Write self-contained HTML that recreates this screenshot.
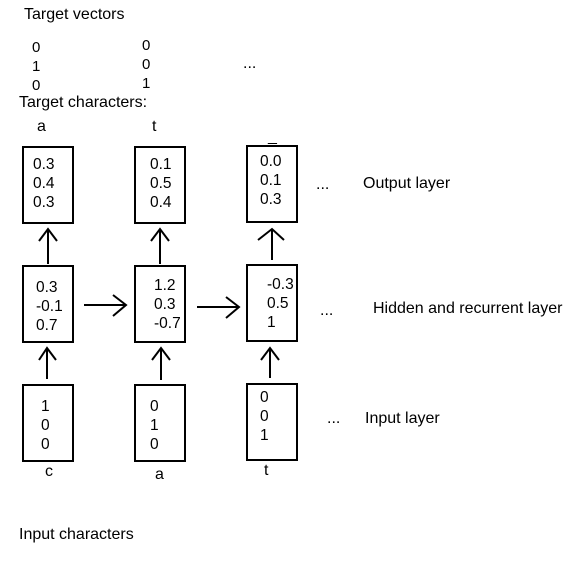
<!DOCTYPE html>
<html><head><style>
body{margin:0;width:568px;height:573px;background:#fff;position:relative;font-family:"Liberation Sans",Arial,sans-serif;font-size:16px;color:#000;overflow:hidden}
.t{position:absolute;line-height:17px;white-space:nowrap}
.b{position:absolute;border:2px solid #000;width:48px;height:74px;box-sizing:content-box}
.v{position:absolute;line-height:19px;font-size:15.5px}
</style></head><body>
<div class="t" style="left:24px;top:6px">Target vectors</div>
<div class="t" style="left:32px;top:38px;line-height:19px;font-size:15px">0<br>1<br>0</div>
<div class="t" style="left:142px;top:36px;line-height:19px;font-size:15px">0<br>0<br>1</div>
<div class="t" style="left:243px;top:55px">...</div>
<div class="t" style="left:19px;top:94px">Target characters:</div>
<div class="t" style="left:37px;top:118px">a</div>
<div class="t" style="left:152px;top:118px">t</div>
<div class="t" style="left:268px;top:128px">_</div>

<div class="b" style="left:22px;top:146px"><div class="v" style="left:9px;top:7px">0.3<br>0.4<br>0.3</div></div>
<div class="b" style="left:134px;top:146px"><div class="v" style="left:14px;top:7px">0.1<br>0.5<br>0.4</div></div>
<div class="b" style="left:246px;top:145px"><div class="v" style="left:12px;top:5px">0.0<br>0.1<br>0.3</div></div>

<div class="b" style="left:22px;top:265px"><div class="v" style="left:12px;top:11px">0.3<br>-0.1<br>0.7</div></div>
<div class="b" style="left:134px;top:265px"><div class="v" style="left:18px;top:9px">1.2<br>0.3<br>-0.7</div></div>
<div class="b" style="left:246px;top:264px"><div class="v" style="left:19px;top:9px">-0.3<br>0.5<br>1</div></div>

<div class="b" style="left:22px;top:384px"><div class="v" style="left:17px;top:11px">1<br>0<br>0</div></div>
<div class="b" style="left:134px;top:384px"><div class="v" style="left:14px;top:11px">0<br>1<br>0</div></div>
<div class="b" style="left:246px;top:383px"><div class="v" style="left:12px;top:3px">0<br>0<br>1</div></div>

<div class="t" style="left:45px;top:463px">c</div>
<div class="t" style="left:155px;top:466px">a</div>
<div class="t" style="left:264px;top:462px">t</div>

<svg width="568" height="573" style="position:absolute;left:0;top:0" fill="none" stroke="#000" stroke-width="2">
<path d="M48 264V229M39 241L48 229L57 241"/>
<path d="M160 264V229M151 241L160 229L169 241"/>
<path d="M272 260V229M258 240L272 229L284 240"/>
<path d="M47 379V348M39 360L47 348L56 360"/>
<path d="M161 380V348M152 360L161 348L170 360"/>
<path d="M270 378V348M261 360L270 348L279 360"/>
<path d="M84 305H126M113 295L126 305L113 316"/>
<path d="M197 307H239M226 297L239 307L226 318"/>
</svg>

<div class="t" style="left:316px;top:176px">...</div>
<div class="t" style="left:363px;top:175px">Output layer</div>
<div class="t" style="left:320px;top:302px">...</div>
<div class="t" style="left:373px;top:300px">Hidden and recurrent layer</div>
<div class="t" style="left:327px;top:410px">...</div>
<div class="t" style="left:365px;top:410px">Input layer</div>
<div class="t" style="left:19px;top:526px">Input characters</div>
</body></html>
